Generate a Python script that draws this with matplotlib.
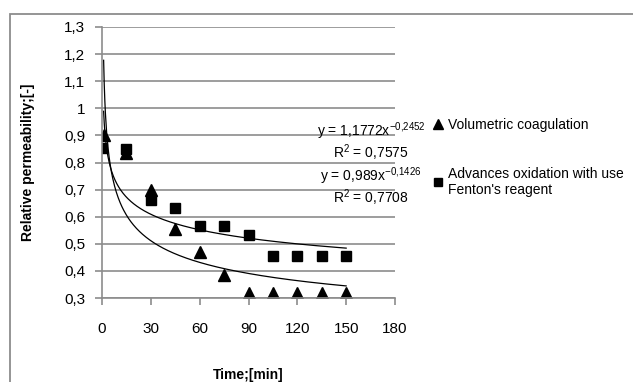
import numpy as np
import matplotlib
matplotlib.use("Agg")
import matplotlib.pyplot as plt
from matplotlib.patches import Rectangle
from matplotlib.lines import Line2D

plt.rcParams['font.family'] = ['Liberation Sans', 'DejaVu Sans']
plt.rcParams['mathtext.fontset'] = 'custom'
plt.rcParams['mathtext.rm'] = 'Liberation Sans'
plt.rcParams['mathtext.it'] = 'Liberation Sans'

# data
coag_t = [1, 15, 30, 45, 60, 75, 90, 105, 120, 135, 150]
coag_val = [0.90, 0.835, 0.70, 0.555, 0.47, 0.385, 0.32, 0.32, 0.32, 0.32, 0.32]
fenton_t = [0, 15, 30, 45, 60, 75, 90, 105, 120, 135, 150]
fenton_val = [0.853, 0.85, 0.662, 0.632, 0.567, 0.567, 0.532, 0.456, 0.456, 0.456, 0.456]

# power trendlines y = a * x^b (coefficients from the chart labels)
coag_fit = (1.1772, -0.2452)
fenton_fit = (0.989, -0.1426)
trend_range = (1, 150)

x_ticks = [0, 30, 60, 90, 120, 150, 180]
y_ticks = [0.3, 0.4, 0.5, 0.6, 0.7, 0.8, 0.9, 1.0, 1.1, 1.2, 1.3]
y_tick_labels = ['0,3', '0,4', '0,5', '0,6', '0,7', '0,8', '0,9', '1', '1,1', '1,2', '1,3']

grid_col = '#8c8c8c'

fig = plt.figure(figsize=(6.33, 3.82), dpi=100)
ax = fig.add_axes([102 / 633, 84 / 382, 293 / 633, 271 / 382])

# chart area border (cut off at right and bottom)
fig.patches.append(Rectangle((10 / 633, -0.2), 1.2, 1.2 - 14 / 382,
                             transform=fig.transFigure, fill=False,
                             edgecolor=grid_col, linewidth=1.3))

ax.plot(coag_t, coag_val, linestyle='none', marker='^', color='black', markersize=8)
ax.plot(fenton_t, fenton_val, linestyle='none', marker='s', color='black', markersize=6.5)

xs = np.linspace(trend_range[0], trend_range[1], 400)
ax.plot(xs, coag_fit[0] * xs ** coag_fit[1], color='black', linewidth=0.9)
ax.plot(xs, fenton_fit[0] * xs ** fenton_fit[1], color='black', linewidth=0.9)

ax.set_xlim(0, 180)
ax.set_ylim(0.3, 1.3)
ax.set_xticks(x_ticks)
ax.set_yticks(y_ticks)
ax.set_yticklabels(y_tick_labels)
ax.grid(True, axis='y', color=grid_col, linewidth=1.2)
ax.set_axisbelow(True)
for s in ['top', 'right']:
    ax.spines[s].set_visible(False)
for s in ['left', 'bottom']:
    ax.spines[s].set_color(grid_col)
    ax.spines[s].set_linewidth(1.2)
ax.tick_params(axis='both', colors=grid_col, labelcolor='black', labelsize=11,
               length=5, width=1.2)
ax.tick_params(axis='x', pad=12)
ax.tick_params(axis='y', pad=7)

ax.set_ylabel('Relative permeability;[-]', fontsize=10, fontweight='bold')
ax.yaxis.set_label_coords(-0.229, 0.5)
ax.set_xlabel('Time;[min]', fontsize=10, fontweight='bold')
ax.xaxis.set_label_coords(0.5, -0.258)

# trendline labels
eq_x = 371 / 633
fig.text(eq_x, 1 - 131 / 382, r'y = 1,1772x$^{\mathrm{-0{,}2452}}$', ha='center', va='center', fontsize=10)
fig.text(eq_x, 1 - 153 / 382, r'R$^{\mathrm{2}}$ = 0,7575', ha='center', va='center', fontsize=10)
fig.text(eq_x, 1 - 176 / 382, r'y = 0,989x$^{\mathrm{-0{,}1426}}$', ha='center', va='center', fontsize=10)
fig.text(eq_x, 1 - 198 / 382, r'R$^{\mathrm{2}}$ = 0,7708', ha='center', va='center', fontsize=10)

handles = [Line2D([], [], linestyle='none', marker='^', color='black', markersize=7),
           Line2D([], [], linestyle='none', marker='s', color='black', markersize=6)]
labels = ['Volumetric coagulation', "Advances oxidation with use\nFenton's reagent"]
fig.legend(handles, labels, loc='upper left', bbox_to_anchor=(433 / 633, 1 - 118 / 382),
           frameon=False, fontsize=10, borderpad=0, borderaxespad=0,
           handlelength=0.7, handletextpad=0.35, labelspacing=2.5, numpoints=1)

plt.savefig('out.png', dpi=100)
